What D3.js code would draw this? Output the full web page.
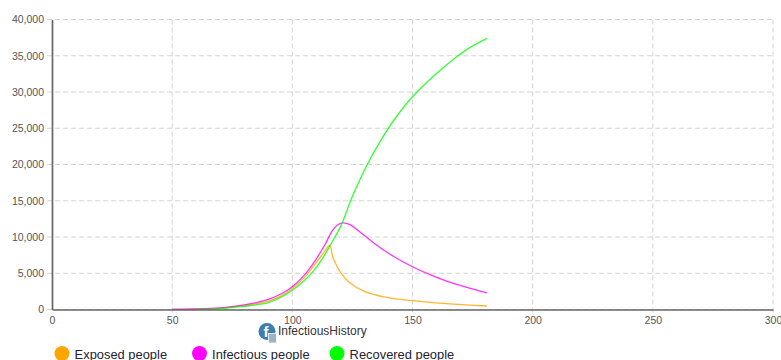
<!DOCTYPE html>
<html>
<head>
<meta charset="utf-8">
<script src="https://cdn.jsdelivr.net/npm/d3@7"></script>
<style>
  html,body{margin:0;padding:0;background:#fff;overflow:hidden;}
  svg{display:block;font-family:"Liberation Sans",Arial,sans-serif;}
</style>
</head>
<body>
<div id="my_dataviz"></div>
<script>
var exposedX = [50,60,70,80,85,90,95,100,105,109,113,115.5,117,120,123.5,130,138,150,164,181];
var exposedY = [20,60,170,530,800,1150,1800,2900,4400,6050,7800,8850,7100,5150,3800,2500,1750,1210,800,480];
var infectiousX = [50,60,70,80,85,90,95,100,105,109,113.5,116.5,118.5,121,124,127,134,142,150,157,167,181];
var infectiousY = [20,70,230,650,950,1400,2100,3150,4750,6500,8900,10800,11600,11950,11700,11000,9150,7350,5900,4850,3600,2300];
var recoveredX = [60,70,80,85,90,95,100,105,109,113,116,120,122,124,127,131,136.5,142,150,160,168.4,174,181];
var recoveredY = [30,120,450,650,950,1650,2650,4000,5400,7300,9000,11400,13000,14800,17100,19900,23150,26000,29350,32550,34850,36150,37400];
var xTicks = [0,50,100,150,200,250,300];
var yTicks = [0,5000,10000,15000,20000,25000,30000,35000,40000];
var seriesNames = ["Exposed people","Infectious people","Recovered people"];
var seriesColors = ["#ffa500","#ff00ff","#00ff00"];
var chartTitle = "InfectiousHistory";

var width = 781, height = 360;
var svg = d3.select("#my_dataviz").append("svg").attr("width", width).attr("height", height);

var x = d3.scaleLinear().domain([0,300]).range([52,773]);
var y = d3.scaleLinear().domain([0,40000]).range([309.5,19.5]);

// grid lines
svg.append("g").selectAll("line").data(yTicks).enter().append("line")
    .attr("x1", 47).attr("x2", 773)
    .attr("y1", function (d) { return y(d)}).attr("y2", function (d) { return y(d)})
    .attr("stroke", "#d4d4d4").attr("stroke-dasharray", "5,3");
svg.append("g").selectAll("line").data(xTicks.slice(1)).enter().append("line")
    .attr("x1", function (d) { return x(d)}).attr("x2", function (d) { return x(d)})
    .attr("y1", 19.5).attr("y2", 314)
    .attr("stroke", "#d4d4d4").attr("stroke-dasharray", "5,3");

// lines
var line = d3.line().x(function (d) { return x(d[0])}).y(function (d) { return y(d[1])}).curve(d3.curveCatmullRom.alpha(0.5));
var series = [d3.zip(exposedX,exposedY), d3.zip(infectiousX,infectiousY), d3.zip(recoveredX,recoveredY)];
svg.append("g").selectAll("path").data(series).enter().append("path")
    .attr("d", line)
    .attr("fill", "none")
    .attr("stroke", function (d,i) { return seriesColors[i]})
    .attr("stroke-opacity", 0.8)
    .attr("stroke-width", 1.3);

// axes
var xAxis = svg.append("g").attr("transform", "translate(0,309.5)")
    .call(d3.axisBottom(x).tickValues(xTicks).tickSize(0).tickPadding(7));
var yAxis = svg.append("g").attr("transform", "translate(52,0)")
    .call(d3.axisLeft(y).tickValues(yTicks).tickSize(0).tickPadding(8).tickFormat(d3.format(",")));
xAxis.selectAll("text").style("font-size","10.5px").attr("fill","#555");
yAxis.selectAll("text").style("font-size","10.5px").attr("fill","#555");
xAxis.select(".domain").attr("stroke","#666").attr("stroke-width",1.7);
yAxis.select(".domain").attr("stroke","#666").attr("stroke-width",1.7);

// title with icon
var icon = svg.append("g");
icon.append("circle").attr("cx",267).attr("cy",331.5).attr("r",8.5).attr("fill","#3f7cb0");
icon.append("text").attr("x",266).attr("y",337).attr("text-anchor","middle")
    .attr("fill","#fff").style("font-size","15px").style("font-weight","bold").text("f");
icon.append("rect").attr("x",268.5).attr("y",333.5).attr("width",8).attr("height",9.5)
    .attr("fill","#9db4c6").attr("stroke","#fff").attr("stroke-width",0.8);
svg.append("text").attr("x",278).attr("y",335).attr("fill","#333").style("font-size","12px").text(chartTitle);

// legend
var legendX = [62,199.5,337];
var legend = svg.append("g").selectAll("g").data(seriesNames).enter().append("g")
    .attr("transform", function (d,i) { return "translate(" + legendX[i] + ",353.5)"});
legend.append("circle").attr("r",7.5).attr("fill", function (d,i) { return seriesColors[i]});
legend.append("text").attr("x",12.6).attr("y",5).attr("fill","#223").style("font-size","12.9px").text(function (d) { return d});
</script>
</body>
</html>
